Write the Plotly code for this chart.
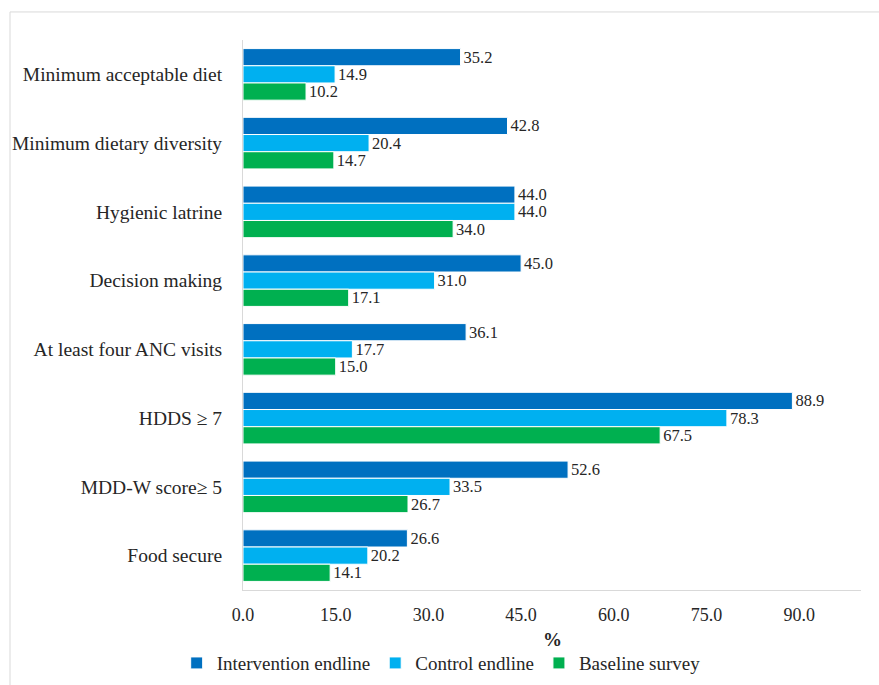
import plotly.graph_objects as go

categories = [
    "Minimum acceptable diet",
    "Minimum dietary diversity",
    "Hygienic latrine",
    "Decision making",
    "At least four ANC visits",
    "HDDS \u2265 7",
    "MDD-W score\u2265 5",
    "Food secure",
]
intervention_endline = [35.2, 42.8, 44.0, 45.0, 36.1, 88.9, 52.6, 26.6]
control_endline = [14.9, 20.4, 44.0, 31.0, 17.7, 78.3, 33.5, 20.2]
baseline_survey = [10.2, 14.7, 34.0, 17.1, 15.0, 67.5, 26.7, 14.1]

series = [
    ("Intervention endline", intervention_endline, "#0070C0"),
    ("Control endline", control_endline, "#00B0F0"),
    ("Baseline survey", baseline_survey, "#00B050"),
]

FONT = "Liberation Serif"
TEXT = "#262626"
SIZE = 19

fig = go.Figure()
for name, vals, color in series:
    fig.add_trace(go.Bar(
        y=categories, x=vals, name=name, orientation="h",
        marker=dict(color=color, line=dict(color="white", width=1)),
        text=vals, texttemplate="%{x:.1f}", textposition="outside",
        constraintext="none",
        textfont=dict(family=FONT, size=16.5, color=TEXT),
        cliponaxis=False,
    ))

fig.update_layout(
    width=879, height=685,
    margin=dict(l=243, r=18, t=40, b=95),
    paper_bgcolor="white", plot_bgcolor="white",
    barmode="group", bargap=0.25, bargroupgap=0,
    font=dict(family=FONT, size=SIZE, color=TEXT),
    showlegend=True,
    legend=dict(orientation="h", xref="container", x=0.201, xanchor="left",
                yref="container", y=0.032, yanchor="middle",
                font=dict(family=FONT, size=SIZE, color=TEXT),
                itemwidth=30, traceorder="normal"),
    xaxis=dict(range=[0, 100], tick0=0, dtick=15, tickformat=".1f",
               showgrid=False, zeroline=False, showline=True, linecolor="#d9d9d9",
               linewidth=1, ticks="", ticklabelstandoff=8, automargin=False,
               tickfont=dict(family=FONT, size=18, color=TEXT)),
    yaxis=dict(autorange="reversed", showgrid=False, showline=True, linecolor="#d9d9d9",
               linewidth=1, ticks="", ticklabelstandoff=16, automargin=False,
               tickfont=dict(family=FONT, size=19.5, color=TEXT)),
    annotations=[dict(text="<b>%</b>", xref="paper", yref="paper", x=0.5, y=-0.0909,
                      xanchor="center", yanchor="middle", showarrow=False,
                      font=dict(family=FONT, size=SIZE, color=TEXT))],
    shapes=[dict(type="rect", xref="paper", yref="paper",
                 x0=-0.377, x1=1.05, y0=-0.2, y1=1.051,
                 line=dict(color="#d9d9d9", width=1), fillcolor="rgba(0,0,0,0)",
                 layer="below")],
)

fig.write_html("out.html")
